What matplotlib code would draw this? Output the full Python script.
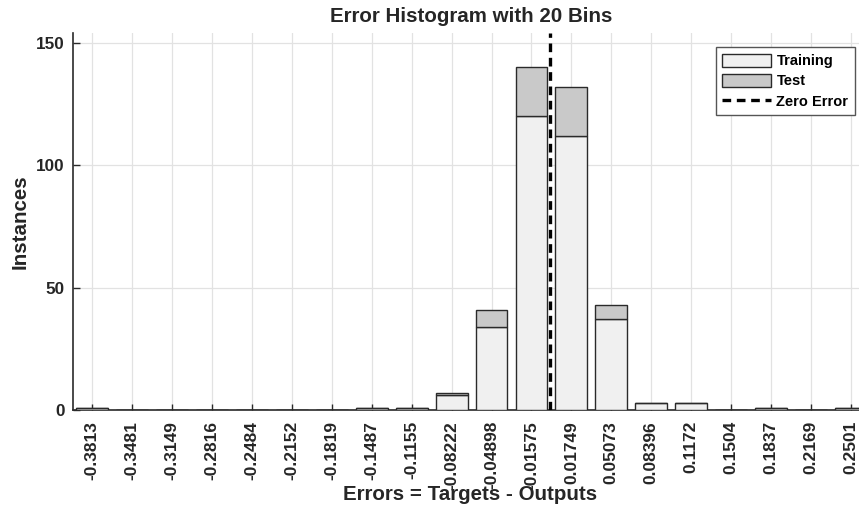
import matplotlib
matplotlib.use("Agg")
import matplotlib.pyplot as plt
from matplotlib.patches import Patch
from matplotlib.lines import Line2D

# bin centers and counts
bin_centers = [-0.3813, -0.3481, -0.3149, -0.2816, -0.2484, -0.2152, -0.1819,
               -0.1487, -0.1155, -0.08222, -0.04898, -0.01575, 0.01749,
               0.05073, 0.08396, 0.1172, 0.1504, 0.1837, 0.2169, 0.2501]
tick_labels = ["-0.3813", "-0.3481", "-0.3149", "-0.2816", "-0.2484",
               "-0.2152", "-0.1819", "-0.1487", "-0.1155", "-0.08222",
               "-0.04898", "-0.01575", "0.01749", "0.05073", "0.08396",
               "0.1172", "0.1504", "0.1837", "0.2169", "0.2501"]
training = [1, 0, 0, 0, 0, 0, 0, 1, 1, 6, 34, 120, 112, 37, 3, 3, 0, 1, 0, 1]
test = [0, 0, 0, 0, 0, 0, 0, 0, 0, 1, 7, 20, 20, 6, 0, 0, 0, 0, 0, 0]
zero_error = 0.0

plt.rcParams["font.family"] = ["Liberation Sans", "DejaVu Sans"]
plt.rcParams["font.weight"] = "bold"

W, H = 859, 508
fig = plt.figure(figsize=(W / 100, H / 100), dpi=100)

bin_w = bin_centers[1] - bin_centers[0]
x_lo = bin_centers[0] - 0.48 * bin_w
x_hi = bin_centers[-1] + 0.48 * bin_w
px_per_unit = 39.9 / bin_w
ax_w_px = (x_hi - x_lo) * px_per_unit
ax = fig.add_axes([73 / W, (H - 410) / H, ax_w_px / W, (410 - 33) / H])

edge = "#2a2a2a"
txt = "#262626"
train_col = "#f0f0f0"
test_col = "#c9c9c9"

ax.bar(bin_centers, training, width=0.8 * bin_w, color=train_col,
       edgecolor=edge, linewidth=1.0, zorder=3)
ax.bar(bin_centers, test, width=0.8 * bin_w, bottom=training, color=test_col,
       edgecolor=edge, linewidth=1.0, zorder=3)
ax.axvline(zero_error, color="black", linewidth=2.4,
           linestyle=(0, (2.6, 1.7)), zorder=4)

ax.set_xlim(x_lo, x_hi)
ax.set_ylim(0, 154)
ax.set_xticks(bin_centers)
ax.set_xticklabels(tick_labels, rotation=90, fontsize=12.5, fontweight="bold",
                   color=txt)
ax.set_yticks([0, 50, 100, 150])
ax.set_yticklabels(["0", "50", "100", "150"], fontsize=12.3,
                   fontweight="bold", color=txt)
ax.tick_params(axis="x", direction="in", length=4, width=1, pad=8,
               color=edge)
ax.tick_params(axis="y", direction="in", length=5, width=1, pad=6,
               color=edge)

ax.grid(True, color="#e2e2e2", linewidth=0.9, zorder=0)
ax.set_axisbelow(True)
for side in ["top", "right"]:
    ax.spines[side].set_visible(False)
for side in ["left", "bottom"]:
    ax.spines[side].set_color(edge)
    ax.spines[side].set_linewidth(1.2)

ax.set_ylabel("Instances", fontsize=14.8, fontweight="bold", color=txt)
ax.yaxis.set_label_coords((20 - 73) / ax_w_px, 0.5)
ax.yaxis.label.set_va("center")
ax.set_xlabel("Errors = Targets - Outputs", fontsize=14.8, fontweight="bold",
              color=txt)
ax.xaxis.set_label_coords((470 - 73) / ax_w_px, -(494 - 410) / 377)
ax.xaxis.label.set_va("center")

fig.text(471 / W, 1 - 17 / H, "Error Histogram with 20 Bins", ha="center",
         va="center", fontsize=14.8, fontweight="bold", color=txt)

handles = [
    Patch(facecolor=train_col, edgecolor=edge, linewidth=1.0, label="Training"),
    Patch(facecolor=test_col, edgecolor=edge, linewidth=1.0, label="Test"),
    Line2D([0], [0], color="black", linewidth=2.4, linestyle=(0, (2.6, 1.7)),
           label="Zero Error"),
]
leg = ax.legend(handles=handles, loc="upper right",
                bbox_to_anchor=(855 / W, 1 - 47 / H),
                bbox_transform=fig.transFigure, borderaxespad=0,
                prop={"size": 10.5, "weight": "bold"}, fancybox=False,
                framealpha=1, edgecolor="#555555", handlelength=3.3,
                handleheight=1.0, handletextpad=0.4, labelspacing=0.4,
                borderpad=0.45)
leg.get_frame().set_linewidth(1.0)

fig.savefig("out.png", dpi=100)
